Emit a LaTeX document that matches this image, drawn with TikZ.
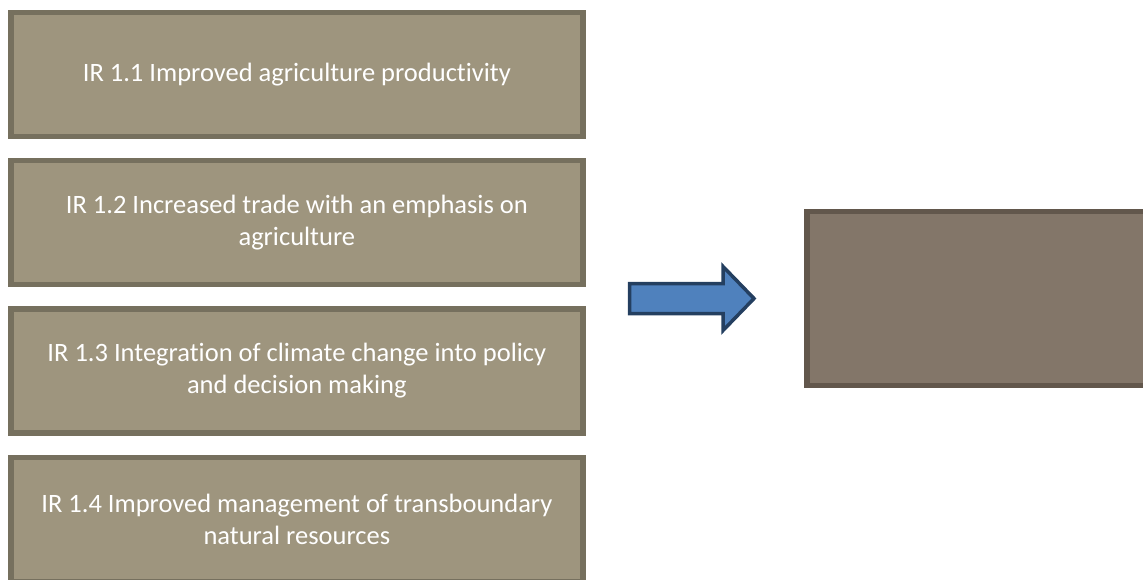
\documentclass[tikz,border=0pt]{standalone}
\usepackage{fontspec}
\setmainfont[Ligatures=NoCommon]{Carlito}
\definecolor{irfill}{HTML}{9E957E}
\definecolor{irline}{HTML}{76705E}
\definecolor{goalfill}{HTML}{837669}
\definecolor{goalline}{HTML}{62574C}
\definecolor{arrfill}{HTML}{4F81BD}
\definecolor{arrline}{HTML}{243F60}
\tikzset{
  irbox/.style={draw=irline, fill=irfill, line width=5.5pt, rectangle,
    minimum width=572.2pt, minimum height=124pt, inner sep=0pt,
    text=white, align=center, font=\fontsize{26.5}{32.3}\selectfont},
  goalbox/.style={draw=goalline, fill=goalfill, line width=5.5pt}
}
\begin{document}
\begin{tikzpicture}[x=1pt,y=-1pt]
\useasboundingbox (0,0) rectangle (1143,580);
\clip (0,0) rectangle (1143,580);
\node[irbox] (ir1) at (296.85,74.75) {IR 1.1 Improved agriculture productivity};
\node[irbox] (ir2) at (296.85,222.4) {IR 1.2 Increased trade with an emphasis on\\agriculture};
\node[irbox] (ir3) at (296.85,370.9) {IR 1.3 Integration of climate change into policy\\and decision making};
\node[irbox] (ir4) at (296.85,519.5) {IR 1.4 Improved management of transboundary\\natural resources};
\draw[draw=arrline, fill=arrfill, line width=3.5pt, line join=miter]
  (629.5,283.5) -- (723,283.5) -- (723,266.5) -- (754,298.5) -- (723,330.5)
  -- (723,313.5) -- (629.5,313.5) -- cycle;
\draw[goalbox] (806.75,211.75) rectangle (1150,385.25);
\end{tikzpicture}
\end{document}
